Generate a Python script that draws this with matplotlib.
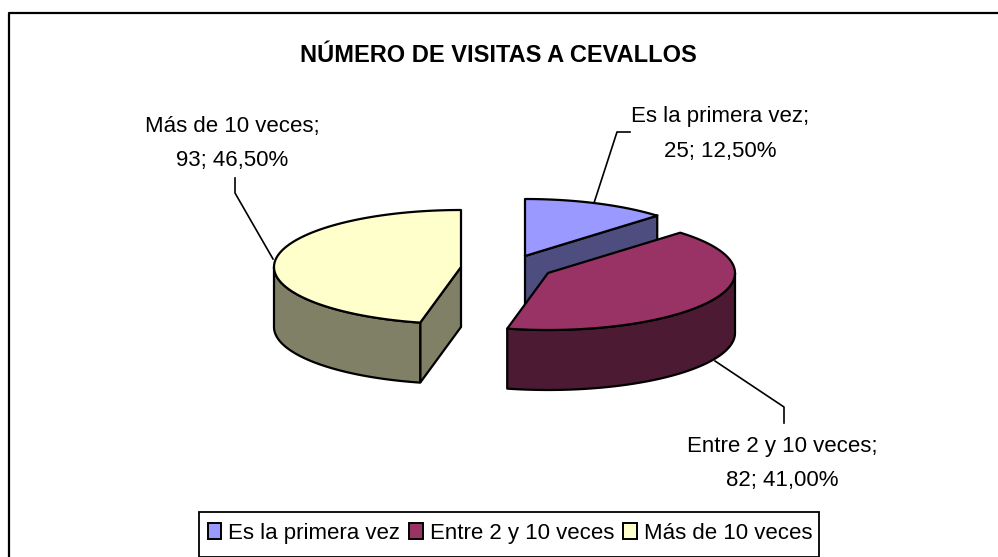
import numpy as np
import matplotlib
matplotlib.use("Agg")
import matplotlib.pyplot as plt
from matplotlib.patches import Polygon, Patch, Rectangle

plt.rcParams["font.family"] = ["Liberation Sans", "DejaVu Sans"]

categories = ["Es la primera vez", "Entre 2 y 10 veces", "Más de 10 veces"]
visits = [25, 82, 93]
percents = [12.5, 41.0, 46.5]
top_colors = ["#9999FF", "#993366", "#FFFFCC"]
side_colors = ["#4D4D80", "#4D1A33", "#808066"]

# pie geometry in pixels, the axes cover the whole figure
RX = 187
RY = 57
DEPTH = 60
centers = [(525, 256), (548, 273), (461, 267)]
# label x centre, then baseline of each of the two lines
label_pos = [(720, 122, 157), (782, 452, 486), (232, 132, 166)]
leaders = [
    [(630, 132), (617, 132), (594, 203)],
    [(784, 423), (784, 407), (715, 361)],
    [(235, 178), (235, 193), (273, 259)],
]
LW = 1.6
FS = 16


def rim(cx, cy, a0, a1):
    # angles are clockwise from the top of the pie
    t = np.radians(np.linspace(a0, a1, 120))
    return np.column_stack([cx + RX * np.sin(t), cy - RY * np.cos(t)])


def draw_slice(ax, center, a0, a1, top, side):
    cx, cy = center
    # face of the cut, only seen when it looks towards the viewer
    if a0 < 90 and a1 < 90:
        p = rim(cx, cy, a1, a1)[0]
        face = [(cx, cy), p, (p[0], p[1] + DEPTH), (cx, cy + DEPTH)]
        ax.add_patch(Polygon(face, fc=side, ec="black", lw=LW, joinstyle="miter"))
    if 180 < a0 < 270:
        p = rim(cx, cy, a0, a0)[0]
        face = [(cx, cy), p, (p[0], p[1] + DEPTH), (cx, cy + DEPTH)]
        ax.add_patch(Polygon(face, fc=side, ec="black", lw=LW, joinstyle="miter"))
    # outer wall, lower half of the ellipse only
    w0, w1 = max(a0, 90), min(a1, 270)
    if w0 < w1:
        arc = rim(cx, cy, w0, w1)
        wall = np.vstack([arc, arc[::-1] + [0, DEPTH]])
        ax.add_patch(Polygon(wall, fc=side, ec="black", lw=LW, joinstyle="round"))
    pts = np.vstack([[(cx, cy)], rim(cx, cy, a0, a1)])
    ax.add_patch(Polygon(pts, fc=top, ec="black", lw=LW, joinstyle="round"))


fig = plt.figure(figsize=(9.98, 5.57), dpi=100)
ax = fig.add_axes([0, 0, 1, 1])
ax.set_xlim(0, 998)
ax.set_ylim(557, 0)
ax.axis("off")

# chart frame runs off the right and bottom of the picture
ax.plot([9.5, 9.5, 1010], [570, 12.5, 12.5], color="black", lw=1.6)

edges = np.concatenate([[0], np.cumsum(visits)]) / np.sum(visits) * 360
# blue sits behind the other two, red is in front
for i in [0, 2, 1]:
    draw_slice(ax, centers[i], edges[i], edges[i + 1], top_colors[i], side_colors[i])

for i in range(3):
    xs, ys = zip(*leaders[i])
    ax.plot(xs, ys, color="black", lw=1.2)
    pct = f"{percents[i]:.2f}".replace(".", ",")
    x, y1, y2 = label_pos[i]
    ax.text(x, y1, f"{categories[i]};", ha="center", va="baseline", fontsize=FS, color="black")
    ax.text(x, y2, f"{visits[i]}; {pct}%", ha="center", va="baseline", fontsize=FS, color="black")

ax.text(498.5, 62, "NÚMERO DE VISITAS A CEVALLOS", ha="center", va="baseline",
        fontsize=17, fontweight="bold", color="black")

# legend box drawn apart, the legend's own frame cannot be this tight
ax.add_patch(Rectangle((199.5, 511.5), 620, 45, fc="white", ec="black", lw=1.3))
handles = [Patch(fc=c, ec="black", lw=1.4) for c in top_colors]
leg = ax.legend(handles, categories, ncol=3, loc="center",
                bbox_to_anchor=(510 / 998, 1 - 533.5 / 557), fontsize=FS, frameon=False,
                handlelength=0.6, handleheight=0.7,
                handletextpad=0.32, columnspacing=0.42, borderpad=0.6, borderaxespad=0)

fig.savefig("out.png", dpi=100)
